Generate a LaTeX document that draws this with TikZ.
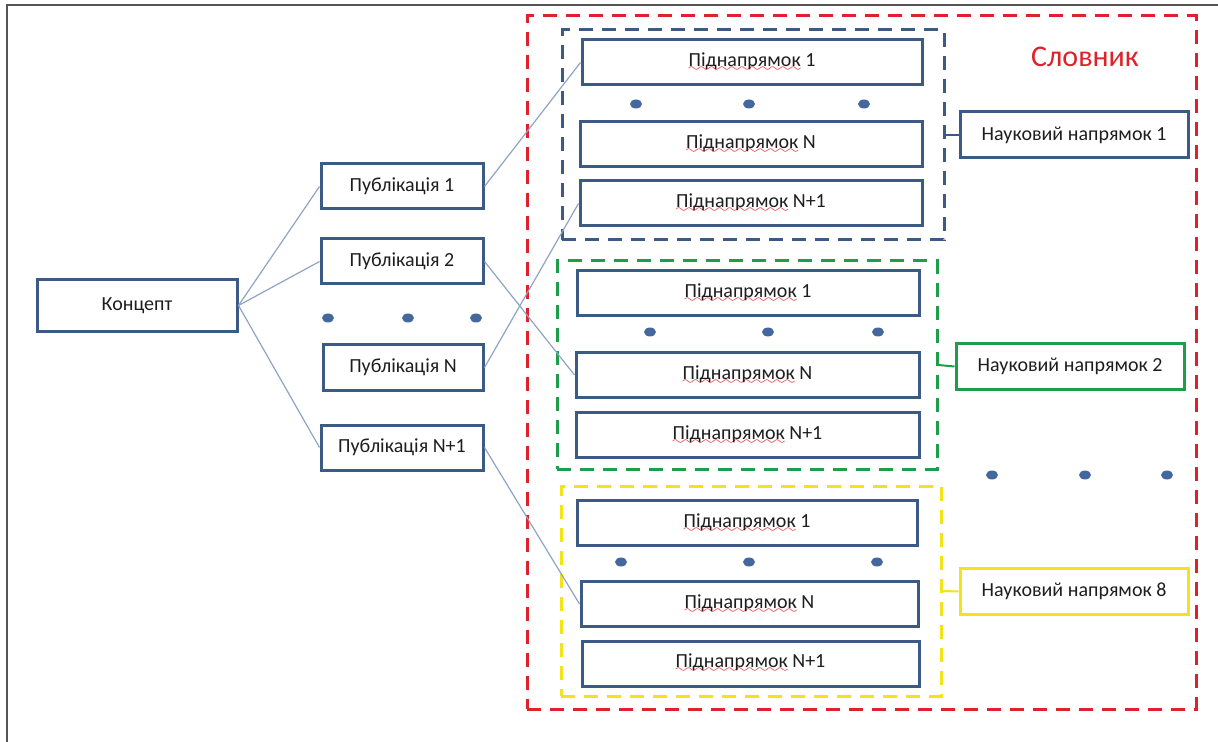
\documentclass[tikz,border=0pt]{standalone}
\usepackage{fontspec}
\setmainfont{Carlito}
\usetikzlibrary{shapes.geometric,positioning,fit}
\definecolor{boxblue}{HTML}{3B5A84}
\definecolor{dotblue}{HTML}{44679D}
\definecolor{linkblue}{HTML}{8FA3C6}
\definecolor{dictred}{HTML}{E0202A}
\definecolor{grpgreen}{HTML}{1E9E4A}
\definecolor{grpyellow}{HTML}{F2E418}
\definecolor{txt}{HTML}{1E1E1E}
\definecolor{framegray}{HTML}{555555}
\font\wavefont=lasy6
\newcommand{\spellmark}[1]{\setbox0=\hbox{#1}\leavevmode\rlap{\lower2.5pt\hbox to\wd0{\color{dictred}\xleaders\hbox{\wavefont\char58}\hfil}}\box0\relax}

\begin{document}
\begin{tikzpicture}[
  x=0.5pt, y=-0.5pt,
  font=\fontsize{10}{12}\selectfont, text=txt,
  box/.style={rectangle, draw=boxblue, fill=white, line width=1.5pt, minimum height=22.5pt, inner sep=0pt, align=center},
  pub/.style={box, minimum width=81pt},
  sub/.style={box, minimum width=170pt},
  area/.style={box, minimum width=114pt, minimum height=23pt},
  grp/.style={rectangle, dash pattern=on 7pt off 4.5pt, line width=1.5pt, inner sep=0pt},
  dot/.style={ellipse, fill=dotblue, minimum width=6pt, minimum height=4.5pt, inner sep=0pt},
  link/.style={linkblue, line width=0.6pt},
  tie/.style={line width=1pt}
]
  \useasboundingbox (0,0) rectangle (1218,742);
  \draw[framegray, line width=1pt] (7,742) -- (7,5) -- (1218,5);

  % dictionary and groups
  \node[grp, draw=dictred, fit={(527,16) (1196,709)}] (dict) {};
  \node[text=dictred, font=\fontsize{15}{18}\selectfont] (dictname) at (1085,57) {Словник};
  \node[grp, draw=boxblue, fit={(562,30) (944,240)}] (g1) {};
  \node[grp, draw=grpgreen, fit={(557,261) (937,469)}] (g2) {};
  \node[grp, draw=grpyellow, fit={(561,486) (941,696)}] (g3) {};

  % left side
  \node[box, minimum width=100pt, minimum height=26pt] (concept) at (137,305.5) {Концепт};
  \node[pub] (pub1) at (402,186.5) {Публікація 1};
  \node[pub] (pub2) at (402,261.5) {Публікація 2};
  \node[pub, minimum width=80pt] (pubn) at (403,367.5) {Публікація N};
  \node[pub] (pubn1) at (402,447.5) {Публікація N+1};
  \foreach \x [count=\i] in {328,408,476}
    \node[dot] (pdot\i) at (\x,318) {};

  % group 1
  \node[sub] (g1a) at (752,62.5) {\spellmark{Піднапрямок} 1};
  \node[sub, minimum width=171pt] (g1b) at (751,144) {\spellmark{Піднапрямок} N};
  \node[sub, minimum width=171pt] (g1c) at (751,203.5) {\spellmark{Піднапрямок} N+1};
  \foreach \x [count=\i] in {636,749,864}
    \node[dot] (adot\i) at (\x,104) {};
  \node[area] (area1) at (1074,135) {Науковий напрямок 1};

  % group 2
  \node[sub, minimum width=171pt] (g2a) at (748,293) {\spellmark{Піднапрямок} 1};
  \node[sub, minimum width=171.5pt] (g2b) at (747.5,375) {\spellmark{Піднапрямок} N};
  \node[sub, minimum width=171.5pt] (g2c) at (747.5,435) {\spellmark{Піднапрямок} N+1};
  \foreach \x [count=\i] in {650,768,878}
    \node[dot] (bdot\i) at (\x,332) {};
  \node[area, draw=grpgreen] (area2) at (1070,366.5) {Науковий напрямок 2};

  \foreach \x [count=\i] in {992,1085,1167}
    \node[dot] (mdot\i) at (\x,475) {};

  % group 3
  \node[sub] (g3a) at (747,523) {\spellmark{Піднапрямок} 1};
  \node[sub, minimum width=168.5pt] (g3b) at (749.5,604) {\spellmark{Піднапрямок} N};
  \node[sub, minimum width=168.5pt] (g3c) at (750.5,663.5) {\spellmark{Піднапрямок} N+1};
  \foreach \x [count=\i] in {621,749,877}
    \node[dot] (cdot\i) at (\x,562) {};
  \node[area, draw=grpyellow] (area3) at (1074,591.5) {Науковий напрямок 8};

  \draw[link] (concept.east) -- (pub1.west);
  \draw[link] (concept.east) -- (pub2.west);
  \draw[link] (concept.east) -- (pubn1.west);
  \draw[link] (pub1.east) -- (g1a.west);
  \draw[link] (pub2.east) -- (g2b.west);
  \draw[link] (pubn.east) -- (g1c.west);
  \draw[link] (pubn1.east) -- (g3b.west);

  \draw[tie, boxblue] (g1.east) -- (area1.west);
  \draw[tie, grpgreen] (g2.east) -- (area2.west);
  \draw[tie, grpyellow] (g3.east) -- (area3.west);
\end{tikzpicture}
\end{document}
